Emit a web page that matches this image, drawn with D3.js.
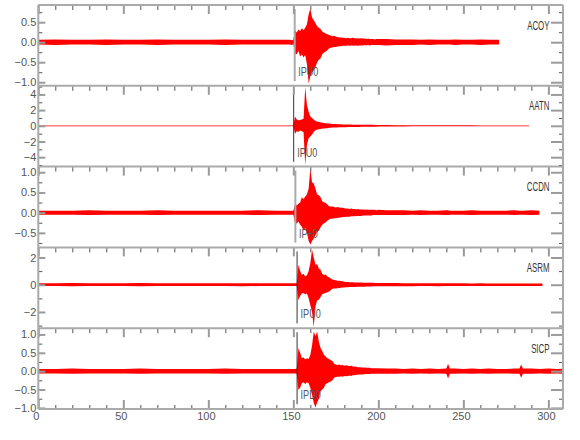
<!DOCTYPE html>
<html>
<head>
<meta charset="utf-8">
<title>Seismograms</title>
<script src="https://cdn.jsdelivr.net/npm/d3@7"></script>
<style>
  body { margin: 0; background: #fff; }
  svg { display: block; font-family: "Liberation Sans", Arial, sans-serif; }
  .axis text { font-size: 11px; fill: #555; }
  .axis--major line { stroke: #9a9a9a; stroke-width: 2; }
  .axis--minor line { stroke: #555; stroke-width: 1; }
  .frame { stroke: #aaa; stroke-width: 2; }
  .trace { fill: #f00; stroke: none; }
  .station { font-size: 12.5px; fill: #333; }
  .pick__label { font-size: 13px; fill: #555; }
</style>
</head>
<body>
<svg id="chart" width="580" height="440"></svg>
<script>
// Stations, top to bottom
const stations = ["ACOY", "AATN", "CCDN", "ASRM", "SICP"];
const pickLabels = ["IPU0", "IPU0", "IP+0", "IPU0", "IPD0"];
const pickTimes = [150.8, 150.2, 151.2, 152.2, 152.2];
const endTimes = [271, 288.6, 294.7, 296.5, 308.6];

// Axis ranges and ticks
const xDomain = [0, 308.6];
const yDomains = [[-1.09, 0.93], [-5.2, 5.1], [-0.86, 1.14], [-3.19, 2.74], [-1.03, 1.17]];
const yMajorTicks = [[0.5, 0, -0.5, -1], [4, 2, 0, -2, -4], [1, 0.5, 0, -0.5], [2, 0, -2], [1, 0.5, 0, -0.5, -1]];
const yMinorTicks = [[0.75, 0.25, -0.25, -0.75], [5, 3, 1, -1, -3, -5], [0.75, 0.25, -0.25, -0.75], [1, -1, -3], [0.75, 0.25, -0.25, -0.75]];
const yFormats = [".1f", "d", ".1f", "d", ".1f"];
const xMajorTicks = [0, 50, 100, 150, 200, 250, 300];
const xMinorTicks = [10, 20, 30, 40, 60, 70, 80, 90, 110, 120, 130, 140, 160, 170, 180, 190,
  210, 220, 230, 240, 260, 270, 280, 290];

// Time bins (s): coarse before the event, 1 s through the event, coarse after
const preTime = [0, 10, 20, 30, 40, 50, 60, 70, 80, 90, 100, 110, 120, 130, 140];
const eventTime = [148, 149, 150, 151, 152, 153, 154, 155, 156, 157, 158, 159, 160, 161, 162, 163, 164, 165,
  166, 167, 168, 169, 170, 171, 172, 173, 174, 175, 176, 177, 178, 179, 180, 181, 182, 183, 184, 185, 186,
  187, 188, 189, 190, 191, 192, 193, 194, 195, 196, 197, 198, 199, 200];
const postTime = [205, 210, 215, 220, 225, 230, 235, 240, 241, 242, 245, 250, 255, 260, 265, 270, 275,
  280, 283, 284, 285, 290, 295, 300, 305, 310];

// Noise half-amplitude before the event
const acoyPre = [.06, .07, .06, .06, .07, .06, .06, .07, .06, .06, .06, .07, .06, .06, .06];
const aatnPre = [.05, .05, .05, .05, .05, .05, .05, .05, .05, .05, .05, .05, .05, .05, .05];
const ccdnPre = [.05, .05, .05, .06, .05, .05, .05, .06, .05, .05, .05, .05, .05, .06, .05];
const asrmPre = [.10, .10, .12, .10, .10, .10, .12, .10, .10, .10, .10, .10, .11, .10, .10];
const sicpPre = [.06, .06, .07, .06, .06, .06, .07, .06, .06, .06, .06, .07, .06, .06, .06];

// Event envelope, max and min per 1 s bin
const acoyHi = [.06, .05, .06, .30, .24, .32, .28, .35, .30, .36, .45, .70, .84, .62, .55, .48, .40, .36,
  .33, .27, .24, .22, .20, .18, .17, .15, .16, .14, .13, .12, .12, .11, .11, .10, .11, .10, .10, .11, .10,
  .09, .10, .09, .10, .09, .09, .08, .09, .08, .08, .08, .07, .08, .08];
const acoyLo = [-.06, -.07, -.05, -.28, -.30, -.22, -.36, -.30, -.38, -.32, -.55, -1.04, -.85, -.75, -.70,
  -.62, -.50, -.44, -.40, -.30, -.26, -.24, -.20, -.16, -.14, -.13, -.12, -.12, -.11, -.10, -.10, -.09, -.09,
  -.09, -.08, -.09, -.08, -.09, -.08, -.08, -.09, -.08, -.08, -.08, -.07, -.08, -.07, -.08, -.07, -.07, -.07,
  -.07, -.07];
const aatnHi = [.05, .05, .06, 1.2, .8, .7, .75, .8, .9, 4.9, 2.7, 1.8, 1.2, 1.0, .8, .6, .55, .5, .45, .4,
  .35, .32, .3, .28, .25, .24, .22, .22, .2, .2, .19, .18, .18, .17, .17, .16, .16, .15, .15, .15, .14, .14,
  .14, .13, .13, .13, .12, .12, .12, .12, .11, .11, .11];
const aatnLo = [-.05, -.05, -.06, -1.0, -.7, -.75, -.6, -.7, -.8, -5.0, -2.4, -1.6, -1.36, -1.1, -.8, -.55,
  -.5, -.45, -.4, -.35, -.35, -.3, -.3, -.25, -.25, -.23, -.22, -.21, -.2, -.19, -.18, -.18, -.17, -.17, -.16,
  -.16, -.15, -.15, -.15, -.14, -.14, -.14, -.13, -.13, -.13, -.12, -.12, -.12, -.11, -.11, -.11, -.11, -.1];
const ccdnHi = [.05, .05, .05, .22, .18, .22, .25, .38, .33, .40, .45, .60, 1.09, .75, .72, .60, .45, .43,
  .38, .28, .26, .24, .20, .16, .15, .15, .14, .13, .14, .13, .12, .12, .11, .10, .10, .09, .10, .09, .09,
  .08, .09, .08, .08, .08, .07, .08, .07, .07, .07, .07, .07, .06, .07];
const ccdnLo = [-.05, -.05, -.05, -.25, -.27, -.22, -.30, -.35, -.44, -.38, -.50, -.70, -.79, -.70, -.64,
  -.55, -.48, -.44, -.36, -.30, -.27, -.24, -.20, -.17, -.15, -.15, -.14, -.14, -.13, -.12, -.12, -.11, -.11,
  -.10, -.10, -.10, -.09, -.09, -.09, -.08, -.08, -.08, -.08, -.07, -.07, -.07, -.07, -.07, -.07, -.06, -.06,
  -.06, -.06];
const asrmHi = [.1, .1, .1, .1, .1, 1.46, 1.0, .72, .8, .6, .7, 1.0, 1.6, 2.57, 2.0, 1.46, 1.5, 1.2, 1.1,
  .8, .72, .75, .6, .55, .45, .38, .35, .33, .3, .3, .28, .25, .22, .2, .2, .19, .18, .18, .17, .17, .16,
  .16, .16, .15, .15, .15, .14, .14, .14, .14, .13, .13, .13];
const asrmLo = [-.1, -.1, -.1, -.1, -.1, -1.13, -.8, -.64, -.6, -.7, -.64, -1.0, -1.5, -2.0, -3.1, -1.6,
  -1.13, -1.1, -.9, -.7, -.64, -.6, -.55, -.5, -.4, -.3, -.27, -.27, -.25, -.24, -.22, -.2, -.2, -.18, -.18,
  -.17, -.17, -.16, -.16, -.15, -.15, -.15, -.14, -.14, -.14, -.13, -.13, -.13, -.13, -.12, -.12, -.12, -.12];
const sicpHi = [.06, .06, .06, .06, .07, .63, .50, .35, .38, .32, .35, .33, .45, .70, 1.08, .95, 1.08, .80,
  .63, .55, .45, .40, .35, .33, .30, .28, .20, .18, .17, .18, .16, .17, .15, .16, .15, .14, .15, .13, .13,
  .12, .11, .11, .10, .10, .10, .09, .09, .09, .08, .08, .08, .08, .08];
const sicpLo = [-.06, -.06, -.06, -.06, -.07, -.51, -.45, -.33, -.30, -.35, -.30, -.33, -.45, -.65, -.85,
  -.99, -.85, -.75, -.55, -.50, -.45, -.35, -.33, -.30, -.28, -.25, -.18, -.16, -.15, -.15, -.14, -.15, -.13,
  -.14, -.13, -.12, -.13, -.11, -.11, -.10, -.10, -.09, -.09, -.09, -.08, -.08, -.08, -.08, -.07, -.07, -.07,
  -.07, -.07];

// Noise half-amplitude after the event
const acoyPost = [.08, .07, .07, .07, .06, .07, .06, .06, .06, .06, .07, .06, .06, .07, .06, .06, .06, .06, .06, .06, .06, .06, .06, .06, .06, .06];
const aatnPost = [.09, .08, .08, .07, .07, .07, .06, .06, .06, .06, .06, .06, .06, .05, .05, .05, .05, .05, .05, .05, .05, .05, .05, .05, .05, .05];
const ccdnPost = [.06, .06, .06, .05, .06, .05, .05, .06, .06, .05, .05, .05, .06, .05, .05, .05, .05, .06, .05, .05, .05, .06, .05, .05, .05, .05];
const asrmPost = [.12, .12, .11, .11, .10, .10, .11, .10, .10, .10, .10, .10, .09, .10, .09, .09, .09, .09, .09, .09, .09, .09, .09, .09, .09, .09];
const sicpPost = [.07, .07, .06, .07, .06, .07, .06, .07, .20, .07, .07, .06, .07, .06, .07, .06, .06, .07, .07, .18, .07, .07, .06, .07, .06, .07];

const preNoise = [acoyPre, aatnPre, ccdnPre, asrmPre, sicpPre];
const eventHi = [acoyHi, aatnHi, ccdnHi, asrmHi, sicpHi];
const eventLo = [acoyLo, aatnLo, ccdnLo, asrmLo, sicpLo];
const postNoise = [acoyPost, aatnPost, ccdnPost, asrmPost, sicpPost];

// Pick line styles (light grey or dark, as drawn in the plot)
const pickColors = ["#aaa", "#333", "#aaa", "#333", "#333"];
const pickWidths = [2, 1, 2, 1, 1];

// Layout
const margin = { top: 5, left: 38.3, right: 563, bottom: 409 };
const panelH = (margin.bottom - margin.top) / stations.length;

const svg = d3.select("#chart");
const x = d3.scaleLinear().domain(xDomain).range([margin.left, margin.right]);

const noDomain = g => g.select(".domain").remove();

stations.forEach((name, i) => {
  const top = margin.top + i * panelH;
  const bottom = top + panelH;
  const y = d3.scaleLinear().domain(yDomains[i]).range([bottom, top]);
  const g = svg.append("g").attr("class", "panel");

  // Samples of the trace envelope
  const pts = [];
  preTime.forEach((t, j) => pts.push({ t: t, hi: preNoise[i][j], lo: -preNoise[i][j] }));
  eventTime.forEach((t, j) => pts.push({ t: t, hi: eventHi[i][j], lo: eventLo[i][j] }));
  postTime.forEach((t, j) => pts.push({ t: t, hi: postNoise[i][j], lo: -postNoise[i][j] }));

  // Clip to the panel and the end of the record
  svg.append("clipPath").attr("id", "clip" + i)
    .append("rect")
    .attr("x", x(0)).attr("y", top)
    .attr("width", x(endTimes[i]) - x(0)).attr("height", panelH);

  const area = d3.area()
    .x(d => x(d.t))
    .y0(d => y(d.lo))
    .y1(d => y(d.hi));

  g.append("path")
    .datum(pts)
    .attr("class", "trace")
    .attr("clip-path", "url(#clip" + i + ")")
    .attr("d", area);

  // Pick line and label
  g.append("line")
    .attr("x1", x(pickTimes[i])).attr("x2", x(pickTimes[i]))
    .attr("y1", top + 4).attr("y2", top + 76)
    .attr("stroke", pickColors[i])
    .attr("stroke-width", pickWidths[i]);

  g.append("text")
    .attr("class", "pick__label")
    .attr("transform", "translate(" + (x(pickTimes[i]) + 3.5) + "," + (top + 71) + ") scale(0.7,1)")
    .text(pickLabels[i]);

  // Station name
  g.append("text")
    .attr("class", "station")
    .attr("text-anchor", "end")
    .attr("transform", "translate(549.5," + (top + 24.5) + ") scale(0.63,1)")
    .text(name);

  // Left y axis
  g.append("g").attr("class", "axis axis--minor")
    .attr("transform", "translate(" + margin.left + ",0)")
    .call(d3.axisLeft(y).tickValues(yMinorTicks[i]).tickSize(-4).tickFormat(""))
    .call(noDomain);
  g.append("g").attr("class", "axis axis--major")
    .attr("transform", "translate(" + margin.left + ",0)")
    .call(d3.axisLeft(y).tickValues(yMajorTicks[i]).tickSize(-7).tickPadding(2)
      .tickFormat(d3.format(yFormats[i])))
    .call(noDomain);

  // Right mirrored ticks
  g.append("g").attr("class", "axis axis--minor")
    .attr("transform", "translate(" + margin.right + ",0)")
    .call(d3.axisRight(y).tickValues(yMinorTicks[i]).tickSize(-4).tickFormat(""))
    .call(noDomain);
  g.append("g").attr("class", "axis axis--major")
    .attr("transform", "translate(" + margin.right + ",0)")
    .call(d3.axisRight(y).tickValues(yMajorTicks[i]).tickSize(-12).tickFormat(""))
    .call(noDomain);

  // Top x ticks, pointing down
  g.append("g").attr("class", "axis axis--minor")
    .attr("transform", "translate(0," + top + ")")
    .call(d3.axisTop(x).tickValues(xMinorTicks).tickSize(-5).tickFormat(""))
    .call(noDomain);
  g.append("g").attr("class", "axis axis--major")
    .attr("transform", "translate(0," + top + ")")
    .call(d3.axisTop(x).tickValues(xMajorTicks).tickSize(-9).tickFormat(""))
    .call(noDomain);

  // Panel separator
  g.append("line").attr("class", "frame")
    .attr("x1", margin.left).attr("x2", margin.right)
    .attr("y1", top).attr("y2", top);
});

// Bottom x axis, ticks pointing up
svg.append("g").attr("class", "axis axis--minor")
  .attr("transform", "translate(0," + margin.bottom + ")")
  .call(d3.axisBottom(x).tickValues(xMinorTicks).tickSize(-4).tickFormat(""))
  .call(noDomain);
svg.append("g").attr("class", "axis axis--major")
  .attr("transform", "translate(0," + margin.bottom + ")")
  .call(d3.axisBottom(x).tickValues(xMajorTicks).tickSize(-9).tickPadding(3))
  .call(noDomain)
  .selectAll("text").attr("dx", "-2.5");

// Frame
svg.append("line").attr("class", "frame")
  .attr("x1", margin.left).attr("x2", margin.right)
  .attr("y1", margin.bottom).attr("y2", margin.bottom);
svg.append("line").attr("class", "frame")
  .attr("x1", margin.left).attr("x2", margin.left)
  .attr("y1", margin.top).attr("y2", margin.bottom);
svg.append("line").attr("class", "frame")
  .attr("x1", margin.right).attr("x2", margin.right)
  .attr("y1", margin.top).attr("y2", margin.bottom);
</script>
</body>
</html>
